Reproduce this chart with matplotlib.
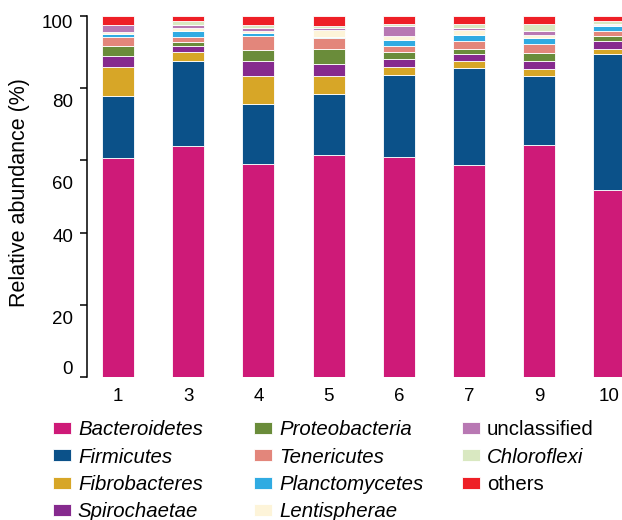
import matplotlib
matplotlib.use("Agg")
import matplotlib.pyplot as plt
import matplotlib.transforms as mtransforms
import numpy as np

plt.rcParams['font.family'] = ['Liberation Sans', 'DejaVu Sans']

samples = ['1', '3', '4', '5', '6', '7', '9', '10']

# relative abundance (%) per phylum, one value per sample
bacteroidetes  = [60.7, 64.0, 59.0, 61.6, 61.0, 58.8, 64.4, 51.9]
firmicutes     = [17.1, 23.4, 16.7, 16.7, 22.6, 26.7, 19.0, 37.5]
fibrobacteres  = [8.0, 2.7, 7.7, 5.1, 2.2, 2.1, 1.9, 1.6]
spirochaetae   = [3.2, 1.5, 4.0, 3.4, 2.3, 1.8, 2.3, 2.0]
proteobacteria = [2.7, 1.3, 3.1, 4.1, 1.8, 1.6, 2.2, 1.4]
tenericutes    = [2.5, 1.4, 3.9, 3.0, 1.9, 2.0, 2.4, 1.5]
planctomycetes = [0.7, 1.6, 0.8, 0.3, 1.5, 1.8, 1.8, 1.2]
lentispherae   = [0.7, 0.9, 0.7, 1.9, 1.1, 1.2, 0.7, 0.4]
unclassified   = [1.9, 0.6, 0.9, 0.5, 2.7, 0.7, 1.2, 0.3]
chloroflexi    = [0.0, 1.1, 0.6, 0.5, 0.8, 1.2, 1.9, 0.7]
others         = [2.5, 1.5, 2.6, 2.9, 2.1, 2.1, 2.2, 1.5]

names = ['Bacteroidetes', 'Firmicutes', 'Fibrobacteres', 'Spirochaetae',
         'Proteobacteria', 'Tenericutes', 'Planctomycetes', 'Lentispherae',
         'unclassified', 'Chloroflexi', 'others']
series = [bacteroidetes, firmicutes, fibrobacteres, spirochaetae,
          proteobacteria, tenericutes, planctomycetes, lentispherae,
          unclassified, chloroflexi, others]
colors = ['#CE1A78', '#0B5189', '#D7A627', '#862A8E', '#6A8C3A', '#E3867B',
          '#30ABE2', '#FDF4D9', '#B878B3', '#D9E8C1', '#EE1F26']

fig = plt.figure(figsize=(6.22, 5.20), dpi=100)
ax = fig.add_axes([0.1399, 0.275, 0.8601, 0.6942])

x = np.arange(len(samples))
bottom = np.zeros(len(samples))
handles = []
for name, vals, col in zip(names, series, colors):
    vals = np.array(vals)
    b = ax.bar(x, vals, width=0.456, bottom=bottom, color=col,
               edgecolor='white', linewidth=0.6, label=name)
    handles.append(b)
    bottom += vals

ax.set_xlim(-0.4416, 7.179)
ax.set_ylim(0, 100)

for s in ['top', 'right', 'bottom']:
    ax.spines[s].set_visible(False)
ax.spines['left'].set_bounds(0, 100)
ax.spines['left'].set_linewidth(1.1)

ax.set_xticks(x)
ax.set_xticklabels(samples, fontsize=13.5)
ax.tick_params(axis='x', length=0, pad=8)

ax.set_yticks([0, 20, 40, 60, 80, 100])
ax.set_yticklabels(['0', '20', '40', '60', '80', '100'], fontsize=13.5)
ax.tick_params(axis='y', direction='out', length=5, width=1.1, pad=5)

# tick labels sit a little off their ticks
shifts = [0.09, -0.13, -0.03, -0.22, -0.12, -0.05]
for lab, dy in zip(ax.get_yticklabels(), shifts):
    off = mtransforms.ScaledTranslation(0, dy, fig.dpi_scale_trans)
    lab.set_transform(lab.get_transform() + off)

ax.set_ylabel('Relative abundance (%)', fontsize=15.5)
ax.yaxis.set_label_coords(-0.106, 0.51)

# legend in three columns, each placed on its own
col_x = [0.0852, 0.4084, 0.7428]
groups = [range(0, 4), range(4, 8), range(8, 11)]
for cx, idx in zip(col_x, groups):
    leg = fig.legend(handles=[handles[i] for i in idx],
                     labels=[names[i] for i in idx], loc='upper left',
                     bbox_to_anchor=(cx, 0.192), frameon=False, fontsize=14.7,
                     handlelength=0.88, handleheight=0.54, handletextpad=0.34,
                     labelspacing=0.41, borderpad=0, borderaxespad=0)
    for t in leg.get_texts():
        if t.get_text() not in ('unclassified', 'others'):
            t.set_style('italic')
    for h in leg.legend_handles:
        h.set_edgecolor('white')

fig.savefig('out.png', dpi=100)
